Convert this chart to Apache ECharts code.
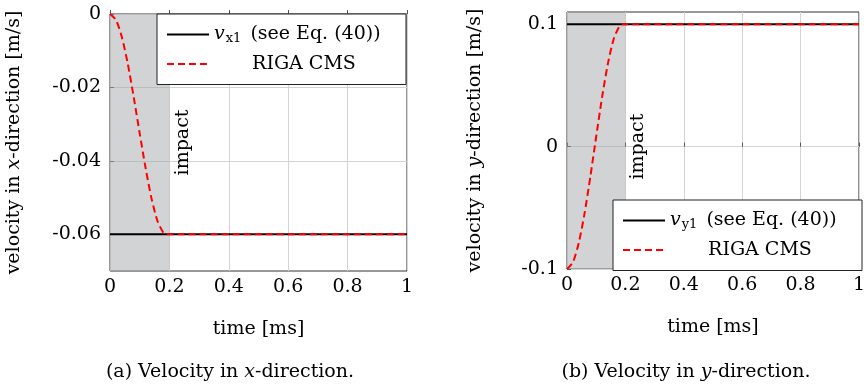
<!DOCTYPE html>
<html>
<head>
<meta charset="utf-8">
<script src="https://cdn.jsdelivr.net/npm/echarts@6/dist/echarts.min.js"></script>
<style>
  html, body { margin: 0; padding: 0; background: #fff; }
  #chart { width: 868px; height: 385px; }
</style>
</head>
<body>
<div id="chart"></div>
<script>
// time samples [ms]
const timeRiga = [0, 0.02, 0.04, 0.06, 0.08, 0.1, 0.12, 0.14, 0.16, 0.18, 0.19, 1];
const rigaX = [0, -0.0016, -0.0063, -0.0136, -0.0227, -0.0325, -0.042, -0.0503, -0.0564, -0.0596, -0.06, -0.06];
const rigaY = [-0.1, -0.0946, -0.0789, -0.0548, -0.0245, 0.0082, 0.0401, 0.0677, 0.088, 0.0986, 0.1, 0.1];
// analytic reference (constant)
const timeRef = [0, 1];
const refX = [-0.06, -0.06];
const refY = [0.1, 0.1];
// ticks
const yTicksA = [0, -0.02, -0.04, -0.06];
const yTicksB = [-0.1, 0, 0.1];
const impactEnd = 0.2;

const FONT = 'DejaVu Serif';
const FS = 19;
const zip = (t, v) => t.map((x, i) => [x, v[i]]);

const chart = echarts.init(document.getElementById('chart'));

function xAxis(grid) {
  return {
    type: 'value', gridIndex: grid, min: 0, max: 1, interval: 0.2,
    name: 'time [ms]', nameLocation: 'middle', nameGap: 49,
    nameTextStyle: { fontFamily: FONT, fontSize: FS, color: '#000' },
    axisLine: { show: false },
    axisTick: { inside: true, length: 4, lineStyle: { color: '#555' } },
    axisLabel: { fontFamily: FONT, fontSize: FS, color: '#000', margin: 7 },
    splitLine: { show: true, lineStyle: { color: '#d4d4d4', width: 1 } }
  };
}

function yAxis(grid, min, max, ticks, letter, gap) {
  return {
    type: 'value', gridIndex: grid, min: min, max: max,
    name: 'velocity in {i|' + letter + '}-direction [m/s]',
    nameLocation: 'middle', nameGap: gap, nameRotate: 90,
    nameTextStyle: {
      fontFamily: FONT, fontSize: FS, color: '#000',
      rich: { i: { fontFamily: FONT, fontStyle: 'italic', fontSize: FS, color: '#000' } }
    },
    axisLine: { show: false },
    axisTick: { inside: true, length: 4, customValues: ticks, lineStyle: { color: '#555' } },
    axisLabel: {
      fontFamily: FONT, fontSize: FS, color: '#000', margin: 9, customValues: ticks,
      formatter: v => String(v)
    },
    splitLine: { show: true, lineStyle: { color: '#d4d4d4', width: 1 } }
  };
}

function legend(left, top, refName, sub) {
  return {
    left: left, top: top, orient: 'vertical',
    data: [refName, 'RIGA CMS'],
    backgroundColor: '#fff', borderColor: '#222', borderWidth: 1,
    padding: [10, 12, 10, 9], itemGap: 8, itemWidth: 42, itemHeight: 14,
    selectedMode: false,
    itemStyle: { opacity: 0 },
    textStyle: {
      fontFamily: FONT, fontSize: FS, color: '#000', lineHeight: 21,
      rich: {
        i: { fontFamily: FONT, fontStyle: 'italic', fontSize: FS, color: '#000' },
        s: { fontFamily: FONT, fontSize: 13, color: '#000', padding: [9, 3, 0, 1] },
        c: { fontFamily: FONT, fontSize: FS, color: '#000', width: 180, align: 'center' }
      }
    },
    formatter: name => name === 'RIGA CMS'
      ? '{c|RIGA CMS}'
      : '{i|v}{s|' + sub + '} (see Eq. (40))'
  };
}

function shade() {
  return {
    silent: true,
    itemStyle: { color: 'rgba(160,162,166,0.47)' },
    data: [[{ xAxis: 0 }, { xAxis: impactEnd }]]
  };
}

const rigaStyle = { color: '#f00', width: 2, type: [7, 4] };
const refStyle = { color: '#000', width: 2 };

chart.setOption({
  animation: false,
  grid: [
    { left: 110, top: 14, width: 297, height: 257, show: true, borderColor: '#333', borderWidth: 1, backgroundColor: 'transparent' },
    { left: 567, top: 12, width: 296, height: 257, show: true, borderColor: '#333', borderWidth: 1, backgroundColor: 'transparent' }
  ],
  xAxis: [xAxis(0), xAxis(1)],
  yAxis: [
    yAxis(0, -0.07, 0, yTicksA, 'x', 86),
    yAxis(1, -0.1, 0.11, yTicksB, 'y', 82)
  ],
  legend: [
    legend(157, 14, 'vx1', 'x1'),
    legend(613, 200, 'vy1', 'y1')
  ],
  title: [
    {
      text: '(a) Velocity in {i|x}-direction.', left: 225, top: 358, textAlign: 'center',
      textStyle: { fontFamily: FONT, fontSize: FS, fontWeight: 'normal', color: '#000',
        rich: { i: { fontFamily: FONT, fontStyle: 'italic', fontSize: FS, color: '#000' } } }
    },
    {
      text: '(b) Velocity in {i|y}-direction.', left: 681, top: 358, textAlign: 'center',
      textStyle: { fontFamily: FONT, fontSize: FS, fontWeight: 'normal', color: '#000',
        rich: { i: { fontFamily: FONT, fontStyle: 'italic', fontSize: FS, color: '#000' } } }
    }
  ],
  series: [
    {
      name: 'vx1', type: 'line', xAxisIndex: 0, yAxisIndex: 0, symbol: 'none',
      data: zip(timeRef, refX), lineStyle: refStyle, itemStyle: { color: '#000' }
    },
    {
      name: 'RIGA CMS', type: 'line', xAxisIndex: 0, yAxisIndex: 0, symbol: 'none',
      smooth: 0.25,
      data: zip(timeRiga, rigaX), lineStyle: rigaStyle, itemStyle: { color: '#f00' },
      markArea: shade()
    },
    {
      name: 'vy1', type: 'line', xAxisIndex: 1, yAxisIndex: 1, symbol: 'none',
      data: zip(timeRef, refY), lineStyle: refStyle, itemStyle: { color: '#000' }
    },
    {
      name: 'RIGA CMS', type: 'line', xAxisIndex: 1, yAxisIndex: 1, symbol: 'none',
      smooth: 0.25,
      data: zip(timeRiga, rigaY), lineStyle: rigaStyle, itemStyle: { color: '#f00' },
      markArea: shade()
    }
  ]
});

// "impact" labels placed through the axes
const pA = chart.convertToPixel({ gridIndex: 0 }, [0.245, -0.035]);
const pB = chart.convertToPixel({ gridIndex: 1 }, [0.244, 0]);
const impactText = p => ({
  type: 'text', x: p[0], y: p[1], rotation: Math.PI / 2, z: 10,
  style: { text: 'impact', fontFamily: FONT, fontSize: FS, fill: '#000', align: 'center', verticalAlign: 'middle' }
});
chart.setOption({ graphic: [impactText(pA), impactText(pB)] });
</script>
</body>
</html>
